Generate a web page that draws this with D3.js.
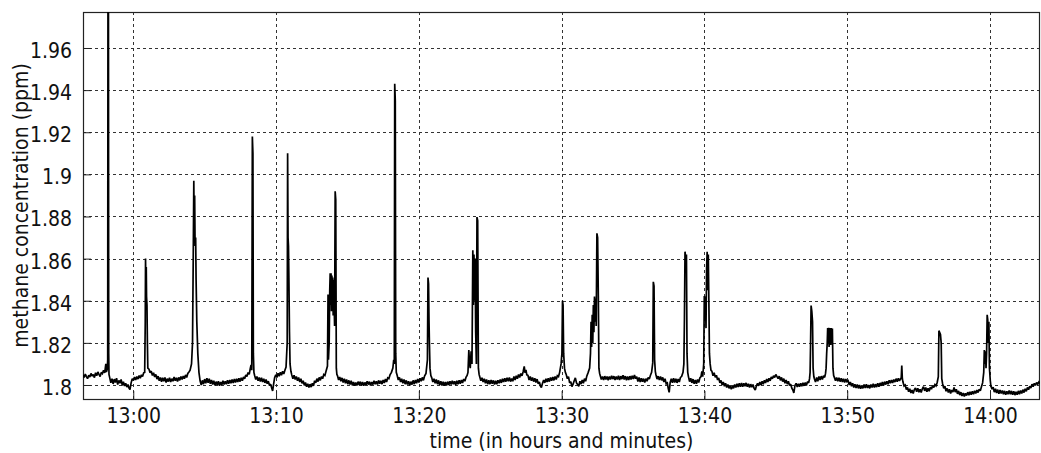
<!DOCTYPE html>
<html>
<head>
<meta charset="utf-8">
<script src="https://cdn.jsdelivr.net/npm/d3@7"></script>
<style>
  html, body { margin: 0; padding: 0; background: #fff; }
  svg { display: block; }
  text { font-family: "DejaVu Sans Condensed", "DejaVu Sans", sans-serif; fill: #111; }
</style>
</head>
<body>
<svg id="chart" width="1041" height="453"></svg>
<script>
// ---- data (minutes after 13:00, methane ppm) ----
const xDomainMin = [-3.52, 63.5];
const yDomain = [1.79335, 1.97709];
const xTickMinutes = [0, 10, 20, 30, 40, 50, 60];
const xTickLabels = ["13:00", "13:10", "13:20", "13:30", "13:40", "13:50", "14:00"];
const yTicks = [1.8, 1.82, 1.84, 1.86, 1.88, 1.9, 1.92, 1.94, 1.96];
const yTickLabels = ["1.8", "1.82", "1.84", "1.86", "1.88", "1.9", "1.92", "1.94", "1.96"];
const xTitle = "time (in hours and minutes)";
const yTitle = "methane concentration (ppm)";

const minutes = [];
const methane = [];
const samples = [
[-3.52,1.8048],[-3.44,1.8036],[-3.36,1.8052],[-3.28,1.8040],[-3.20,1.8030],[-3.12,1.8046],[-3.04,1.8038],[-2.96,1.8055],[-2.88,1.8042],[-2.80,1.8050],[-2.72,1.8035],[-2.64,1.8058],[-2.56,1.8044],[-2.48,1.8062],[-2.40,1.8050],[-2.32,1.8040],[-2.24,1.8060],[-2.16,1.8054],[-2.08,1.8070],[-2.00,1.8058],[-1.92,1.8100],[-1.88,1.8062],[-1.82,1.8075],
[-1.79,1.8120],[-1.77,2.0000],[-1.74,2.0000],[-1.72,1.8150],[-1.70,1.8050],
[-1.65,1.8035],[-1.57,1.8010],[-1.49,1.8030],[-1.41,1.8005],[-1.33,1.8028],[-1.25,1.8012],[-1.17,1.8032],[-1.09,1.8002],[-1.01,1.8022],[-0.93,1.8008],[-0.85,1.8026],[-0.77,1.7998],[-0.69,1.8015],[-0.61,1.7995],[-0.53,1.8008],[-0.45,1.7990],[-0.37,1.8002],[-0.29,1.7984],[-0.23,1.7978],[-0.15,1.8010],[-0.07,1.8030],
[0.01,1.8022],[0.09,1.8038],[0.17,1.8024],[0.25,1.8040],[0.33,1.8028],[0.41,1.8045],[0.49,1.8032],[0.57,1.8048],[0.65,1.8040],[0.73,1.8058],
[0.80,1.8060],[0.84,1.8300],[0.86,1.8600],[0.89,1.8400],[0.91,1.8560],[0.93,1.8420],[0.96,1.8380],[0.99,1.8200],[1.02,1.8080],
[1.10,1.8075],[1.18,1.8058],[1.26,1.8066],[1.34,1.8045],[1.42,1.8058],[1.50,1.8038],[1.58,1.8050],[1.66,1.8028],[1.74,1.8042],[1.82,1.8020],[1.90,1.8036],[1.98,1.8015],[2.06,1.8034],[2.14,1.8018],[2.22,1.8036],[2.30,1.8012],[2.38,1.8030],[2.46,1.8016],[2.54,1.8035],[2.62,1.8014],[2.70,1.8030],[2.78,1.8018],[2.86,1.8038],[2.94,1.8020],[3.02,1.8034],[3.10,1.8016],[3.18,1.8036],[3.26,1.8022],[3.34,1.8040],[3.42,1.8026],[3.50,1.8042],[3.58,1.8030],[3.66,1.8048],[3.74,1.8036],[3.82,1.8055],[3.90,1.8062],[3.98,1.8070],[4.08,1.8100],
[4.15,1.8200],[4.20,1.8600],[4.24,1.8970],[4.27,1.8720],[4.30,1.8900],[4.33,1.8660],[4.37,1.8700],[4.40,1.8500],[4.45,1.8300],[4.52,1.8150],[4.60,1.8060],[4.68,1.8020],
[4.76,1.8000],[4.84,1.8022],[4.92,1.8004],[5.00,1.8028],[5.08,1.8008],[5.16,1.8032],[5.24,1.8010],[5.32,1.8030],[5.40,1.8006],[5.48,1.8024],[5.56,1.8002],[5.64,1.8020],[5.72,1.7998],[5.80,1.8016],[5.88,1.8000],[5.96,1.8018],[6.04,1.7996],[6.12,1.8014],[6.20,1.8000],[6.28,1.8020],[6.36,1.8002],[6.44,1.8018],[6.52,1.8004],[6.60,1.8022],[6.68,1.8006],[6.76,1.8024],[6.84,1.8008],[6.92,1.8026],[7.00,1.8010],[7.08,1.8028],[7.16,1.8012],[7.24,1.8030],[7.32,1.8014],[7.40,1.8032],[7.48,1.8016],[7.56,1.8034],[7.64,1.8020],[7.72,1.8038],[7.80,1.8030],[7.88,1.8048],[7.96,1.8040],[8.04,1.8060],[8.12,1.8050],[8.20,1.8080],
[8.25,1.8095],[8.30,1.8070],[8.34,1.9180],[8.38,1.9100],[8.41,1.8150],[8.45,1.8060],
[8.50,1.8045],[8.58,1.8026],[8.66,1.8040],[8.74,1.8020],[8.82,1.8036],[8.90,1.8016],[8.98,1.8034],[9.06,1.8014],[9.14,1.8030],[9.22,1.8010],[9.30,1.8026],[9.38,1.8006],[9.46,1.8018],[9.54,1.7998],[9.62,1.8004],[9.70,1.7985],[9.76,1.7972],[9.82,1.8000],[9.90,1.8035],[9.98,1.8048],[10.06,1.8036],[10.14,1.8056],[10.22,1.8042],[10.30,1.8060],[10.38,1.8046],[10.46,1.8065],[10.54,1.8052],[10.62,1.8070],[10.70,1.8085],
[10.78,1.8200],[10.81,1.9100],[10.84,1.8700],[10.87,1.8660],[10.90,1.8500],[10.94,1.8250],[10.98,1.8100],[11.04,1.8065],
[11.10,1.8048],[11.18,1.8030],[11.26,1.8046],[11.34,1.8026],[11.42,1.8040],[11.50,1.8020],[11.58,1.8036],[11.66,1.8014],[11.74,1.8030],[11.82,1.8008],[11.90,1.8020],[11.98,1.7998],[12.06,1.8012],[12.14,1.7992],[12.22,1.8006],[12.30,1.7988],[12.38,1.8004],[12.46,1.7990],[12.54,1.8008],[12.62,1.7996],[12.70,1.8020],[12.78,1.8010],[12.86,1.8030],[12.94,1.8016],[13.02,1.8036],[13.10,1.8022],[13.18,1.8040],[13.26,1.8030],[13.34,1.8050],[13.42,1.8045],[13.50,1.8065],
[13.60,1.8090],[13.64,1.8430],[13.67,1.8120],[13.72,1.8200],[13.76,1.8450],[13.79,1.8530],[13.82,1.8380],[13.85,1.8530],[13.88,1.8350],[13.91,1.8520],[13.94,1.8370],[13.97,1.8510],[14.00,1.8330],[14.03,1.8500],[14.06,1.8400],[14.10,1.8280],[14.14,1.8920],[14.18,1.8880],[14.22,1.8080],[14.26,1.8050],
[14.30,1.8045],[14.38,1.8024],[14.46,1.8038],[14.54,1.8018],[14.62,1.8034],[14.70,1.8012],[14.78,1.8030],[14.86,1.8008],[14.94,1.8026],[15.02,1.8004],[15.10,1.8022],[15.18,1.8002],[15.26,1.8020],[15.34,1.7998],[15.42,1.8014],[15.50,1.7996],[15.58,1.8012],[15.66,1.7998],[15.74,1.8016],[15.82,1.8000],[15.90,1.8016],[15.98,1.7998],[16.06,1.8014],[16.14,1.7996],[16.22,1.8012],[16.30,1.8000],[16.38,1.8018],[16.46,1.8002],[16.54,1.8016],[16.62,1.7998],[16.70,1.8014],[16.78,1.8002],[16.86,1.8020],[16.94,1.8004],[17.02,1.8018],[17.10,1.8002],[17.18,1.8022],[17.26,1.8006],[17.34,1.8020],[17.42,1.8004],[17.50,1.8024],[17.58,1.8010],[17.66,1.8028],[17.74,1.8014],[17.82,1.8034],[17.90,1.8030],[17.98,1.8048],[18.08,1.8060],
[18.18,1.8080],[18.24,1.8120],[18.28,1.8100],[18.31,1.9430],[18.35,1.9350],[18.38,1.8150],[18.42,1.8060],
[18.48,1.8046],[18.56,1.8024],[18.64,1.8036],[18.72,1.8014],[18.80,1.8030],[18.88,1.8008],[18.96,1.8026],[19.04,1.8004],[19.12,1.8022],[19.20,1.8002],[19.28,1.8018],[19.36,1.7998],[19.44,1.8016],[19.52,1.8002],[19.60,1.8022],[19.68,1.8004],[19.76,1.8024],[19.84,1.8008],[19.92,1.8028],[20.00,1.8012],[20.08,1.8032],[20.16,1.8018],[20.24,1.8036],[20.32,1.8022],[20.40,1.8042],[20.50,1.8055],
[20.60,1.8120],[20.64,1.8510],[20.68,1.8480],[20.71,1.8310],[20.74,1.8200],[20.78,1.8080],[20.84,1.8045],
[20.90,1.8035],[20.98,1.8014],[21.06,1.8030],[21.14,1.8008],[21.22,1.8026],[21.30,1.8004],[21.38,1.8022],[21.46,1.8000],[21.54,1.8018],[21.62,1.7998],[21.70,1.8016],[21.78,1.7996],[21.86,1.8014],[21.94,1.7998],[22.02,1.8016],[22.10,1.8000],[22.18,1.8018],[22.26,1.8002],[22.34,1.8020],[22.42,1.8004],[22.50,1.8018],[22.58,1.8000],[22.66,1.8020],[22.74,1.8004],[22.82,1.8022],[22.90,1.8006],[22.98,1.8024],[23.06,1.8010],[23.14,1.8028],[23.22,1.8018],[23.30,1.8036],[23.38,1.8045],
[23.44,1.8060],[23.50,1.8166],[23.55,1.8100],[23.60,1.8080],[23.66,1.8160],[23.72,1.8100],[23.78,1.8640],[23.82,1.8380],[23.86,1.8620],[23.90,1.8400],[23.94,1.8600],[23.98,1.8250],[24.03,1.8100],[24.07,1.8797],[24.12,1.8780],[24.17,1.8080],[24.22,1.8050],
[24.26,1.8040],[24.34,1.8020],[24.42,1.8034],[24.50,1.8014],[24.58,1.8030],[24.66,1.8008],[24.74,1.8026],[24.82,1.8004],[24.90,1.8022],[24.98,1.8004],[25.06,1.8024],[25.14,1.8006],[25.22,1.8022],[25.30,1.8002],[25.38,1.8020],[25.46,1.8004],[25.54,1.8022],[25.62,1.8008],[25.70,1.8026],[25.78,1.8010],[25.86,1.8030],[25.94,1.8014],[26.02,1.8032],[26.10,1.8016],[26.18,1.8034],[26.26,1.8018],[26.34,1.8036],[26.42,1.8016],[26.50,1.8030],[26.58,1.8018],[26.66,1.8040],[26.74,1.8024],[26.82,1.8044],[26.90,1.8030],[26.98,1.8050],[27.06,1.8036],[27.14,1.8054],[27.22,1.8044],[27.30,1.8062],[27.38,1.8088],[27.44,1.8058],[27.50,1.8072],[27.56,1.8048],
[27.64,1.8046],[27.72,1.8024],[27.80,1.8040],[27.88,1.8020],[27.96,1.8036],[28.04,1.8016],[28.12,1.8032],[28.20,1.8012],[28.28,1.8028],[28.36,1.8006],[28.44,1.8014],[28.52,1.7994],[28.58,1.7988],[28.66,1.8008],[28.74,1.8024],[28.82,1.8010],[28.90,1.8030],[28.98,1.8014],[29.06,1.8032],[29.14,1.8016],[29.22,1.8036],[29.30,1.8020],[29.38,1.8038],[29.46,1.8022],[29.54,1.8040],[29.62,1.8026],[29.70,1.8044],[29.78,1.8040],[29.86,1.8060],
[29.96,1.8100],[30.02,1.8150],[30.06,1.8400],[30.10,1.8380],[30.14,1.8150],[30.20,1.8080],[30.26,1.8060],
[30.32,1.8050],[30.40,1.8030],[30.48,1.8040],[30.56,1.8010],[30.64,1.8016],[30.72,1.7992],[30.80,1.8004],[30.88,1.8020],[30.96,1.8034],[31.04,1.8010],[31.12,1.8002],[31.20,1.7994],[31.28,1.8018],[31.36,1.8004],[31.44,1.8024],[31.52,1.8008],[31.60,1.8030],[31.68,1.8018],[31.76,1.8042],[31.86,1.8060],
[31.96,1.8080],[32.02,1.8150],[32.06,1.8300],[32.10,1.8180],[32.14,1.8333],[32.18,1.8200],[32.22,1.8380],[32.26,1.8250],[32.30,1.8420],[32.34,1.8300],[32.38,1.8410],[32.42,1.8280],[32.47,1.8720],[32.52,1.8700],[32.57,1.8420],[32.61,1.8080],[32.66,1.8055],
[32.70,1.8045],[32.78,1.8026],[32.86,1.8040],[32.94,1.8024],[33.02,1.8042],[33.10,1.8026],[33.18,1.8040],[33.26,1.8022],[33.34,1.8040],[33.42,1.8026],[33.50,1.8044],[33.58,1.8028],[33.66,1.8042],[33.74,1.8024],[33.82,1.8040],[33.90,1.8026],[33.98,1.8044],[34.06,1.8024],[34.14,1.8042],[34.22,1.8028],[34.30,1.8046],[34.38,1.8026],[34.46,1.8042],[34.54,1.8022],[34.62,1.8040],[34.70,1.8024],[34.78,1.8042],[34.86,1.8026],[34.94,1.8044],[35.02,1.8028],[35.10,1.8048],[35.18,1.8030],[35.26,1.8040],[35.34,1.8016],[35.42,1.8036],[35.50,1.8014],[35.58,1.8032],[35.66,1.8016],[35.74,1.8030],[35.82,1.8012],[35.90,1.8030],[35.98,1.8018],[36.06,1.8036],[36.14,1.8028],[36.22,1.8046],[36.30,1.8060],
[36.38,1.8105],[36.42,1.8490],[36.47,1.8470],[36.51,1.8120],[36.56,1.8065],
[36.60,1.8050],[36.68,1.8028],[36.76,1.8042],[36.84,1.8024],[36.92,1.8040],[37.00,1.8022],[37.08,1.8036],[37.16,1.8014],[37.24,1.8030],[37.32,1.8006],[37.40,1.8010],[37.46,1.7985],[37.53,1.7965],[37.60,1.8012],[37.68,1.8030],[37.76,1.8010],[37.84,1.8032],[37.92,1.8012],[38.00,1.8030],[38.08,1.8010],[38.16,1.8028],[38.24,1.8014],[38.32,1.8036],[38.40,1.8040],[38.50,1.8060],
[38.56,1.8100],[38.60,1.8318],[38.64,1.8633],[38.69,1.8600],[38.74,1.8620],[38.78,1.8150],[38.83,1.8060],
[38.88,1.8040],[38.96,1.8016],[39.04,1.8032],[39.12,1.8010],[39.20,1.8028],[39.28,1.8006],[39.36,1.8024],[39.44,1.8006],[39.52,1.8026],[39.60,1.8012],[39.68,1.8034],[39.76,1.8040],[39.82,1.8064],[39.88,1.8040],
[39.95,1.8100],[39.99,1.8423],[40.03,1.8380],[40.07,1.8420],[40.11,1.8270],[40.15,1.8550],[40.19,1.8633],[40.23,1.8450],[40.27,1.8620],[40.31,1.8400],[40.35,1.8150],[40.40,1.8100],[40.46,1.8070],
[40.52,1.8066],[40.60,1.8044],[40.68,1.8058],[40.76,1.8036],[40.84,1.8046],[40.92,1.8024],[41.00,1.8034],[41.08,1.8010],[41.16,1.8022],[41.24,1.8000],[41.32,1.8014],[41.40,1.7994],[41.48,1.8008],[41.56,1.7988],[41.64,1.8002],[41.72,1.7984],[41.80,1.7998],[41.88,1.7980],[41.96,1.7994],[42.04,1.7984],[42.12,1.8002],[42.20,1.7988],[42.28,1.8006],[42.36,1.7990],[42.44,1.8008],[42.52,1.7992],[42.60,1.8010],[42.68,1.7992],[42.76,1.8008],[42.84,1.7994],[42.92,1.8010],[43.00,1.7992],[43.08,1.8006],[43.16,1.7988],[43.24,1.8004],[43.32,1.7990],[43.40,1.8002],[43.48,1.7984],[43.56,1.7976],[43.64,1.7996],[43.72,1.8008],[43.80,1.7996],[43.88,1.8014],[43.96,1.8000],[44.04,1.8018],[44.12,1.8004],[44.20,1.8022],[44.28,1.8010],[44.36,1.8028],[44.44,1.8014],[44.52,1.8032],[44.60,1.8020],[44.68,1.8038],[44.76,1.8030],[44.84,1.8044],[44.92,1.8036],[45.00,1.8050],[45.08,1.8040],[45.16,1.8030],[45.24,1.8042],[45.32,1.8022],[45.40,1.8036],[45.48,1.8016],[45.56,1.8030],[45.64,1.8008],[45.72,1.8024],[45.80,1.8004],[45.88,1.8018],[45.96,1.7998],[46.04,1.8004],[46.12,1.7985],[46.20,1.7975],[46.26,1.7962],[46.34,1.7998],[46.42,1.8008],[46.50,1.7990],[46.58,1.8006],[46.66,1.7992],[46.74,1.8008],[46.82,1.7994],[46.90,1.8010],[46.98,1.7996],[47.06,1.8012],[47.14,1.7998],[47.22,1.8016],[47.30,1.8010],[47.36,1.8030],
[47.40,1.8060],[47.43,1.8182],[47.47,1.8377],[47.52,1.8350],[47.57,1.8300],[47.61,1.8080],[47.66,1.8040],
[47.70,1.8030],[47.78,1.8014],[47.86,1.8036],[47.94,1.8018],[48.02,1.8040],[48.10,1.8024],[48.18,1.8042],[48.26,1.8026],[48.34,1.8044],[48.42,1.8036],[48.48,1.8055],
[48.52,1.8080],[48.56,1.8150],[48.60,1.8200],[48.63,1.8270],[48.67,1.8200],[48.70,1.8272],[48.73,1.8180],[48.76,1.8270],[48.79,1.8200],[48.82,1.8268],[48.85,1.8190],[48.88,1.8270],[48.92,1.8220],[48.96,1.8268],[49.00,1.8080],[49.05,1.8045],
[49.10,1.8036],[49.18,1.8020],[49.26,1.8036],[49.34,1.8018],[49.42,1.8034],[49.50,1.8016],[49.58,1.8032],[49.66,1.8014],[49.74,1.8030],[49.82,1.8012],[49.90,1.8028],[49.98,1.8016],[50.06,1.8020],[50.14,1.8000],[50.22,1.8014],[50.30,1.7994],[50.38,1.8008],[50.46,1.7988],[50.54,1.8004],[50.62,1.7986],[50.70,1.8002],[50.78,1.7984],[50.86,1.8000],[50.94,1.7982],[51.02,1.7998],[51.10,1.7984],[51.18,1.8002],[51.26,1.7986],[51.34,1.8004],[51.42,1.7986],[51.50,1.8000],[51.58,1.7984],[51.66,1.8002],[51.74,1.7988],[51.82,1.8006],[51.90,1.7988],[51.98,1.8004],[52.06,1.7990],[52.14,1.8008],[52.22,1.7992],[52.30,1.8010],[52.38,1.7996],[52.46,1.8014],[52.54,1.7998],[52.62,1.8016],[52.70,1.8002],[52.78,1.8018],[52.86,1.8004],[52.94,1.8022],[53.02,1.8008],[53.10,1.8024],[53.18,1.8010],[53.26,1.8026],[53.34,1.8014],[53.42,1.8030],[53.50,1.8016],[53.58,1.8032],[53.66,1.8020],[53.74,1.8030],
[53.78,1.8030],[53.82,1.8092],[53.86,1.8030],
[53.90,1.8015],[53.98,1.7995],[54.06,1.8000],[54.14,1.7978],[54.22,1.7988],[54.30,1.7968],[54.38,1.7982],[54.46,1.7962],[54.54,1.7976],[54.62,1.7960],[54.70,1.7978],[54.78,1.7986],[54.86,1.7968],[54.94,1.7984],[55.02,1.7966],[55.10,1.7980],[55.18,1.7964],[55.26,1.7982],[55.34,1.7992],[55.42,1.7972],[55.50,1.7988],[55.58,1.7968],[55.66,1.7984],[55.74,1.7970],[55.82,1.7990],[55.90,1.7980],[55.98,1.7998],[56.06,1.7988],[56.14,1.8002],[56.22,1.7996],[56.30,1.8012],
[56.38,1.8040],[56.42,1.8258],[56.47,1.8250],[56.53,1.8240],[56.58,1.8200],[56.62,1.8030],
[56.68,1.8006],[56.76,1.7984],[56.84,1.7994],[56.92,1.7970],[57.00,1.7984],[57.08,1.7964],[57.16,1.7980],[57.24,1.7960],[57.32,1.7976],[57.40,1.7966],[57.48,1.7988],[57.56,1.7966],[57.64,1.7980],[57.72,1.7958],[57.80,1.7972],[57.88,1.7952],[57.96,1.7966],[58.04,1.7948],[58.12,1.7962],[58.20,1.7946],[58.28,1.7960],[58.36,1.7950],[58.44,1.7966],[58.52,1.7952],[58.60,1.7968],[58.68,1.7954],[58.76,1.7970],[58.84,1.7956],[58.92,1.7972],[59.00,1.7960],[59.08,1.7976],[59.16,1.7964],[59.24,1.7980],[59.32,1.7972],[59.40,1.7992],[59.48,1.8010],
[59.56,1.8060],[59.60,1.8166],[59.64,1.8100],[59.68,1.8160],[59.72,1.8080],[59.76,1.8150],[59.80,1.8333],[59.84,1.8310],[59.88,1.8200],[59.92,1.8300],[59.96,1.8080],[60.02,1.8020],
[60.06,1.7996],[60.14,1.7980],[60.22,1.7990],[60.30,1.7966],[60.38,1.7982],[60.46,1.7962],[60.54,1.7978],[60.62,1.7958],[60.70,1.7976],[60.78,1.7960],[60.86,1.7974],[60.94,1.7956],[61.02,1.7972],[61.10,1.7954],[61.18,1.7970],[61.26,1.7956],[61.34,1.7974],[61.42,1.7956],[61.50,1.7972],[61.58,1.7954],[61.66,1.7970],[61.74,1.7952],[61.82,1.7968],[61.90,1.7954],[61.98,1.7972],[62.06,1.7956],[62.14,1.7974],[62.22,1.7960],[62.30,1.7978],[62.38,1.7964],[62.46,1.7982],[62.54,1.7970],[62.62,1.7988],[62.70,1.7978],[62.78,1.7994],[62.86,1.7986],[62.94,1.8004],[63.02,1.7992],[63.10,1.8008],[63.18,1.7998],[63.26,1.8012],[63.34,1.8004],[63.42,1.8014],[63.50,1.8008]
];
samples.forEach(d => { minutes.push(d[0]); methane.push(d[1]); });

// ---- layout ----
const W = 1041, H = 453;
const plot = { left: 83, right: 1040, top: 12, bottom: 399 };
const base = new Date(2000, 0, 1, 13, 0, 0);
const toDate = m => new Date(base.getTime() + m * 60000);
const FONT = '"DejaVu Sans Condensed", "DejaVu Sans", sans-serif';

const x = d3.scaleTime()
  .domain(xDomainMin.map(toDate))
  .range([plot.left, plot.right]);
const y = d3.scaleLinear()
  .domain(yDomain)
  .range([plot.bottom, plot.top]);

const svg = d3.select("#chart");

svg.append("defs").append("clipPath").attr("id", "clip")
  .append("rect")
  .attr("x", plot.left).attr("y", plot.top)
  .attr("width", plot.right - plot.left).attr("height", plot.bottom - plot.top);

const xTickDates = xTickMinutes.map(toDate);

// gridlines
const grid = svg.append("g").attr("class", "grid");
grid.selectAll("line.gx").data(xTickDates).enter().append("line")
  .attr("x1", d => Math.round(x(d)) + 0.5).attr("x2", d => Math.round(x(d)) + 0.5)
  .attr("y1", plot.top).attr("y2", plot.bottom)
  .attr("stroke", "#333").attr("stroke-width", 1).attr("stroke-dasharray", "3,3");
grid.selectAll("line.gy").data(yTicks).enter().append("line")
  .attr("x1", plot.left).attr("x2", plot.right)
  .attr("y1", d => Math.round(y(d)) + 0.5).attr("y2", d => Math.round(y(d)) + 0.5)
  .attr("stroke", "#333").attr("stroke-width", 1).attr("stroke-dasharray", "3,3");

// axes (ticks inward)
const xAxis = d3.axisBottom(x)
  .tickValues(xTickDates)
  .tickFormat((d, i) => xTickLabels[i])
  .tickSizeInner(-8).tickSizeOuter(0).tickPadding(9);
const gx = svg.append("g")
  .attr("transform", `translate(0,${plot.bottom})`)
  .call(xAxis);
gx.select(".domain").remove();
gx.selectAll(".tick line").attr("stroke", "#222");
gx.selectAll(".tick text")
  .style("font-family", FONT)
  .attr("font-size", 21).attr("fill", "#111");

const yAxis = d3.axisLeft(y)
  .tickValues(yTicks)
  .tickFormat((d, i) => yTickLabels[i])
  .tickSizeInner(-8).tickSizeOuter(0).tickPadding(11);
const gy = svg.append("g")
  .attr("transform", `translate(${plot.left},0)`)
  .call(yAxis);
gy.select(".domain").remove();
gy.selectAll(".tick line").attr("stroke", "#222");
gy.selectAll(".tick text")
  .style("font-family", FONT)
  .attr("font-size", 21).attr("fill", "#111")
  .attr("dy", "0.45em");

// frame
svg.append("rect")
  .attr("x", plot.left + 0.5).attr("y", plot.top + 0.5)
  .attr("width", plot.right - plot.left - 1).attr("height", plot.bottom - plot.top)
  .attr("fill", "none").attr("stroke", "#222").attr("stroke-width", 1.2);

// data line
const line = d3.line()
  .x((d, i) => x(toDate(minutes[i])))
  .y((d, i) => y(methane[i]));
svg.append("path")
  .datum(methane)
  .attr("clip-path", "url(#clip)")
  .attr("d", line)
  .attr("fill", "none")
  .attr("stroke", "#000")
  .attr("stroke-width", 1.7)
  .attr("stroke-linejoin", "miter")
  .attr("stroke-miterlimit", 2);

// titles
svg.append("text")
  .attr("x", (plot.left + plot.right) / 2)
  .attr("y", 448)
  .attr("text-anchor", "middle")
  .style("font-family", FONT)
  .attr("font-size", 21)
  .text(xTitle);
svg.append("text")
  .attr("transform", `translate(28,${(plot.top + plot.bottom) / 2}) rotate(-90)`)
  .attr("text-anchor", "middle")
  .style("font-family", FONT)
  .attr("font-size", 21)
  .text(yTitle);
</script>
</body>
</html>
